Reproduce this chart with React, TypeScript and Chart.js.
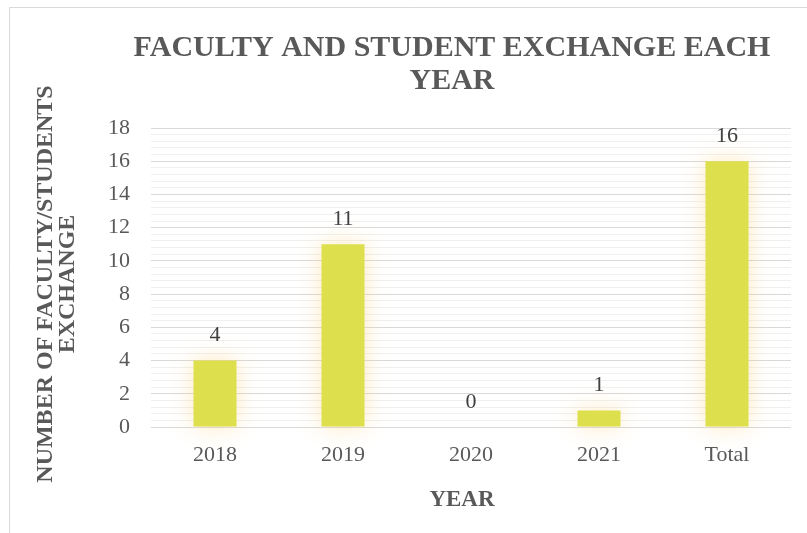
import React, { useEffect, useRef } from "react";
import { Chart, registerables } from "chart.js";

Chart.register(...registerables);

const categories: string[] = ["2018", "2019", "2020", "2021", "Total"];
const values: number[] = [4, 11, 0, 1, 16];
const titleLines: string[] = ["FACULTY AND STUDENT EXCHANGE EACH", "YEAR"];
const yTitleLines: string[] = ["NUMBER OF FACULTY/STUDENTS", "EXCHANGE"];
const xTitle = "YEAR";
const yMin = 0;
const yMax = 18;
const majorStep = 2;
const minorStep = 0.4;

const FONT = "'Liberation Serif', 'Times New Roman', serif";

const isMajor = (v: number) => {
  const r = v / majorStep;
  return Math.abs(r - Math.round(r)) < 1e-6;
};

const framePlugin = {
  id: "frame",
  beforeDraw(chart: any) {
    const ctx = chart.ctx;
    ctx.save();
    ctx.fillStyle = "#ffffff";
    ctx.fillRect(0, 0, chart.width, chart.height);
    ctx.strokeStyle = "#d9d9d9";
    ctx.lineWidth = 1;
    ctx.beginPath();
    ctx.moveTo(9.5, chart.height);
    ctx.lineTo(9.5, 7.5);
    ctx.lineTo(chart.width, 7.5);
    ctx.stroke();
    ctx.restore();
  },
};

const glowPlugin = {
  id: "glow",
  beforeDatasetsDraw(chart: any) {
    const ctx = chart.ctx;
    ctx.save();
    ctx.shadowColor = "rgba(255, 205, 110, 0.45)";
    ctx.shadowBlur = 22;
  },
  afterDatasetsDraw(chart: any) {
    chart.ctx.restore();
  },
};

const labelsPlugin = {
  id: "labelsAndTitles",
  afterDraw(chart: any) {
    const ctx = chart.ctx;
    ctx.save();
    // data labels
    const meta = chart.getDatasetMeta(0);
    ctx.font = `22px ${FONT}`;
    ctx.fillStyle = "#404040";
    ctx.textAlign = "center";
    ctx.textBaseline = "middle";
    meta.data.forEach((bar: any, i: number) => {
      ctx.fillText(String(values[i]), bar.x, bar.y - 25);
    });
    // main title
    ctx.fillStyle = "#595959";
    ctx.font = `bold 30px ${FONT}`;
    ctx.fillText(titleLines[0], 452, 48);
    ctx.fillText(titleLines[1], 452, 81);
    // x title
    ctx.font = `bold 23px ${FONT}`;
    ctx.fillText(xTitle, 462, 500);
    // y title
    ctx.font = `bold 24px ${FONT}`;
    const yc = 284;
    const xs = [46, 68];
    yTitleLines.forEach((line, i) => {
      ctx.save();
      ctx.translate(xs[i], yc);
      ctx.rotate(-Math.PI / 2);
      ctx.fillText(line, 0, 0);
      ctx.restore();
    });
    ctx.restore();
  },
};

export default function App() {
  const ref = useRef<HTMLCanvasElement | null>(null);
  useEffect(() => {
    if (!ref.current) return;
    const chart = new Chart(ref.current, {
      type: "bar",
      data: {
        labels: categories,
        datasets: [
          {
            data: values,
            backgroundColor: "#dde04c",
            borderWidth: 0,
            barPercentage: 0.336,
            categoryPercentage: 1,
            clip: false as any,
          },
        ],
      },
      options: {
        responsive: false,
        animation: false,
        layout: { padding: { top: 128, right: 16, bottom: 0, left: 0 } },
        plugins: {
          legend: { display: false },
          title: { display: false },
          tooltip: { enabled: false },
        },
        scales: {
          x: {
            grid: { display: false, drawTicks: false },
            border: { display: false },
            ticks: {
              color: "#595959",
              font: { family: FONT, size: 22 },
              padding: 15,
            },
            afterFit: (s: any) => {
              s.height = 106;
            },
          },
          y: {
            min: yMin,
            max: yMax,
            border: { display: false },
            grid: {
              drawTicks: false,
              lineWidth: 1,
              color: (c: any) => (isMajor(c.tick ? c.tick.value : 0) ? "#d9d9d9" : "#f0f0f0"),
            },
            ticks: {
              stepSize: minorStep,
              autoSkip: false,
              color: "#595959",
              font: { family: FONT, size: 22 },
              padding: 21,
              callback: (v: any) => (isMajor(Number(v)) ? String(Math.round(Number(v))) : ""),
            },
            afterFit: (s: any) => {
              s.width = 151;
            },
          },
        },
      },
      plugins: [framePlugin, glowPlugin, labelsPlugin],
    });
    return () => chart.destroy();
  }, []);
  return (
    <div style={{ position: "fixed", left: 0, top: 0, width: 807, height: 533, background: "#fff" }}>
      <canvas ref={ref} width={807} height={533} style={{ display: "block" }} />
    </div>
  );
}
